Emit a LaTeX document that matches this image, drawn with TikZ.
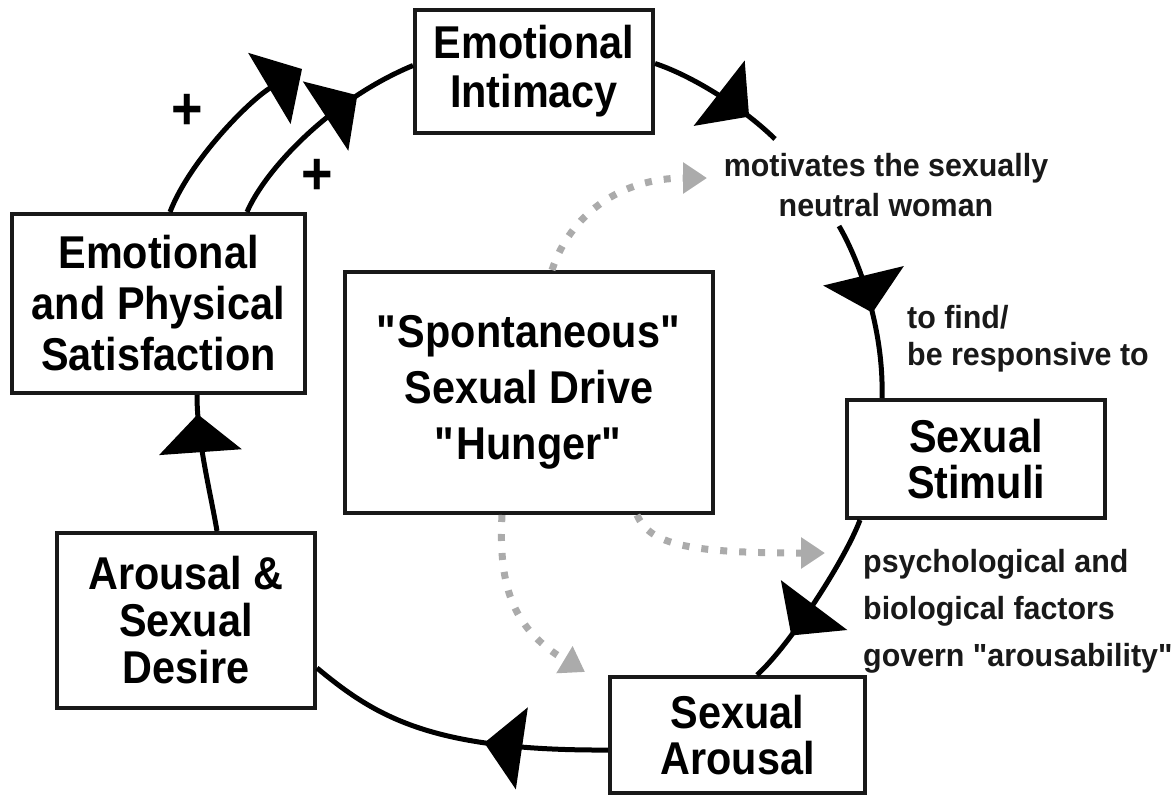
\documentclass[tikz,border=0pt]{standalone}
\usepackage{fontspec}
\setmainfont[FakeStretch=0.9]{Liberation Sans}
\newfontfamily\labelfont[FakeStretch=0.95]{Liberation Sans}
\usetikzlibrary{arrows.meta,decorations.markings}
\tikzset{
  box/.style={draw=black!90, line width=4pt, inner sep=0pt, align=center, fill=white, font=\bfseries\fontsize{46}{49}\selectfont},
  lbl/.style={inner sep=0pt, text=black!90},
  conn/.style={draw=black, line width=5pt},
  bigtip/.style={-{Triangle[length=38pt,width=82pt]}},
  midarrow/.style={postaction={decorate}, decoration={markings, mark=at position #1 with {\arrow{Triangle[length=38pt,width=82pt]}}}},
  dotarrow/.style={draw=black!33, line width=7pt, dash pattern=on 7pt off 12pt, -{Triangle[length=24pt,width=30pt]}},
  plus/.style={inner sep=0pt, font=\bfseries\fontsize{60}{60}\selectfont}
}
\begin{document}
\begin{tikzpicture}[x=1pt,y=-1pt]
\useasboundingbox[fill=white] (0,0) rectangle (1173,796);

% boxes
\node[box, minimum width=238pt, minimum height=123pt] (ei) at (534,71.5) {Emotional\\Intimacy};
\node[box, minimum width=293pt, minimum height=179pt, font=\bfseries\fontsize{46}{51}\selectfont] (sat) at (158.5,303.5) {Emotional\\and Physical\\Satisfaction};
\node[box, minimum width=258pt, minimum height=175pt, font=\bfseries\fontsize{46}{47}\selectfont] (ard) at (186,620.5) {Arousal \&\\Sexual\\Desire};
\node[box, minimum width=368pt, minimum height=241pt, font=\bfseries\fontsize{46}{56}\selectfont] (spon) at (529,392.5) {\textquotedbl Spontaneous\textquotedbl\\Sexual Drive\\\textquotedbl Hunger\textquotedbl};
\node[box, minimum width=258pt, minimum height=118pt, font=\bfseries\fontsize{46}{46}\selectfont] (stim) at (976,459) {Sexual\\Stimuli};
\node[box, minimum width=255pt, minimum height=116pt, font=\bfseries\fontsize{46}{46}\selectfont] (sa) at (737.5,735) {Sexual\\Arousal};

% labels
\node[lbl, align=center, font=\labelfont\bfseries\fontsize{32}{40}\selectfont] (mot) at (886,185) {motivates the sexually\\neutral woman};
\node[lbl, align=left, anchor=west, font=\labelfont\bfseries\fontsize{32}{37}\selectfont] (find) at (907,339) {to find/\\be responsive to};
\node[lbl, align=left, anchor=north west, font=\labelfont\bfseries\fontsize{32}{47}\selectfont] (psy) at (863,549) {psychological and\\biological factors\\govern "arousability"};
\node[plus] (p1) at (187,112) {+};
\node[plus] (p2) at (317,177) {+};

% main cycle
\coordinate (tipA) at (302,69);
\draw[conn, bigtip] ([xshift=11.5pt]sat.north) .. controls (190,160) and (250,100) .. (tipA);
\draw[conn, midarrow=0.72] ([xshift=88.5pt]sat.north) .. controls (265,170) and (330,100) .. ([yshift=6pt]ei.west);
\coordinate (eiEnd) at (775,139);
\draw[conn, midarrow=0.76] ([yshift=8pt]ei.east) .. controls (690,75) and (740,105) .. (eiEnd);
\coordinate (motEnd) at (839,226);
\draw[conn, midarrow=0.52] (motEnd) .. controls (860,262) and (884,330) .. ([xshift=-94pt]stim.north);
\draw[conn, midarrow=0.72] ([xshift=-116pt]stim.south) .. controls (845,560) and (790,645) .. ([xshift=19.5pt]sa.north);
\draw[conn, midarrow=0.40] ([yshift=-15pt]sa.west) .. controls (430,751) and (375,716) .. ([yshift=-47.5pt]ard.east);
\draw[conn, midarrow=0.86] ([xshift=31pt]ard.north) .. controls (210,490) and (197,440) .. ([xshift=38.5pt]sat.south);

% dotted influences
\coordinate (dA) at (707,178);
\draw[dotarrow] ([xshift=23pt]spon.north) .. controls (570,215) and (620,178) .. (dA);
\coordinate (dB) at (825,553);
\draw[dotarrow] ([xshift=108pt]spon.south) .. controls (650,545) and (690,553) .. (dB);
\coordinate (dC) at (585,672);
\draw[dotarrow] ([xshift=-27pt]spon.south) .. controls (498,590) and (515,630) .. (dC);
\end{tikzpicture}
\end{document}
